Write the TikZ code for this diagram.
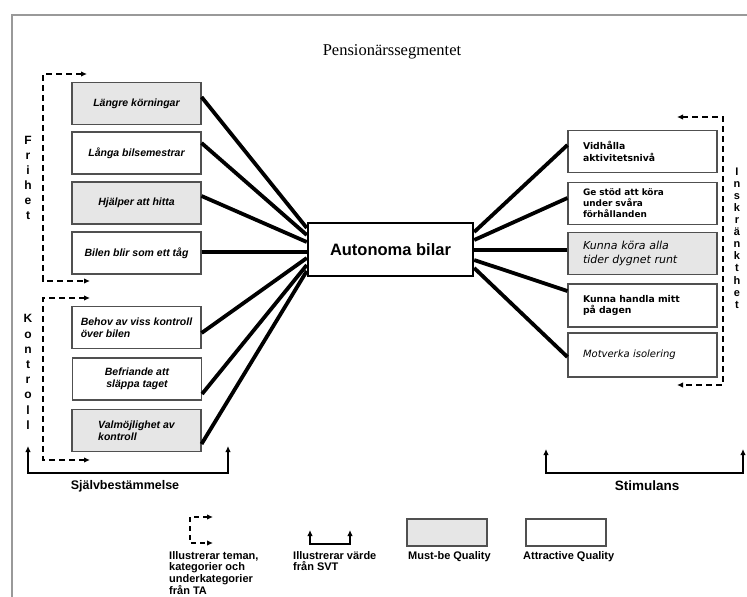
\documentclass[tikz,border=0pt]{standalone}
\usepackage{fontspec}
\setmainfont{Liberation Sans}
\newfontfamily\vfont{DejaVu Sans}
\newfontfamily\tfont{Liberation Serif}
\usetikzlibrary{arrows.meta}
\definecolor{mustgray}{HTML}{E6E6E6}
\definecolor{boxline}{HTML}{505050}
\definecolor{framegray}{HTML}{999999}
\begin{document}
\begin{tikzpicture}[x=1pt,y=-1pt,
 box/.style={draw=boxline, line width=1.1pt, minimum width=129pt, minimum height=42pt, inner sep=2pt, font=\fontsize{10.5}{12}\selectfont\bfseries\itshape},
 rbox/.style={draw=boxline, line width=1.1pt, text width=119pt, inner xsep=15pt, inner ysep=2pt, minimum height=42pt, align=left},
 rbold/.style={font=\vfont\bfseries\fontsize{9.3}{11.5}\selectfont},
 rital/.style={font=\vfont\itshape\fontsize{10.5}{14}\selectfont},
 must/.style={fill=mustgray},
 conn/.style={line width=3.8pt},
 dashbr/.style={line width=1.8pt, dash pattern=on 6pt off 4pt, {Latex[length=6pt,width=5.5pt]}-{Latex[length=6pt,width=5.5pt]}},
 solidbr/.style={line width=1.8pt, {Latex[length=6pt,width=5.5pt]}-{Latex[length=6pt,width=5.5pt]}},
 vlet/.style={font=\fontsize{12}{15}\selectfont\bfseries, align=center, inner sep=0pt},
 leg/.style={font=\bfseries\fontsize{11}{11.2}\selectfont, inner sep=0pt, anchor=north west, align=left},
 lbl/.style={font=\bfseries\fontsize{12.5}{14}\selectfont},
]
\useasboundingbox (0,0) rectangle (747,597);
% frame
\draw[framegray, line width=1.8pt] (12,597) -- (12,15) -- (747,15);
% title
\node[font=\tfont\fontsize{16.5}{18}\selectfont] (title) at (392,52) {Pensionärssegmentet};
% left boxes
\node[box,must] (l1) at (136.5,103.5) {Längre körningar};
\node[box] (l2) at (136.5,153) {Långa bilsemestrar};
\node[box,must] (l3) at (136.5,203) {Hjälper att hitta};
\node[box] (l4) at (136.5,253) {Bilen blir som ett tåg};
\node[box,align=left] (l5) at (136.5,327.5) {Behov av viss kontroll\\över bilen};
\node[box,align=center] (l6) at (137,379) {Befriande att\\släppa taget};
\node[box,must,align=left] (l7) at (136.5,430.5) {Valmöjlighet av\\kontroll};
% right boxes
\node[rbox,rbold] (r1) at (642.5,151.5) {Vidhålla\\aktivitetsnivå};
\node[rbox,rbold,font=\vfont\bfseries\fontsize{8.9}{11}\selectfont] (r2) at (642.5,203.5) {Ge stöd att köra\\under svåra\\förhållanden};
\node[rbox,rital,must,font=\vfont\itshape\fontsize{11}{14}\selectfont] (r3) at (642.5,253.5) {Kunna köra alla\\tider dygnet runt};
\node[rbox,rbold,minimum height=43pt,font=\vfont\bfseries\fontsize{9.3}{11}\selectfont] (r4) at (642.5,305.5) {Kunna handla mitt\\på dagen};
\node[rbox,rital,minimum height=44pt,font=\vfont\itshape\fontsize{10}{12}\selectfont] (r5) at (642.5,355) {Motverka isolering};
% center
\node[draw, line width=2.4pt, minimum width=165pt, minimum height=53pt, font=\bfseries\fontsize{16.5}{18}\selectfont] (c) at (390.5,249.5) {Autonoma bilar};
% connectors left
\draw[conn] ([yshift=6.5pt]l1.east) -- ([yshift=21.5pt]c.west);
\draw[conn] ([yshift=10pt]l2.east) -- ([yshift=14.5pt]c.west);
\draw[conn] ([yshift=7pt]l3.east) -- ([yshift=7.5pt]c.west);
\draw[conn] ([yshift=1pt]l4.east) -- ([yshift=-2.5pt]c.west);
\draw[conn] ([yshift=-5.5pt]l5.east) -- ([yshift=-8.5pt]c.west);
\draw[conn] ([yshift=-15pt]l6.east) -- ([yshift=-15.5pt]c.west);
\draw[conn] ([yshift=-13.5pt]l7.east) -- ([yshift=-21.5pt]c.west);
% connectors right
\draw[conn] ([yshift=6.5pt]r1.west) -- ([yshift=17.5pt]c.east);
\draw[conn] ([yshift=5.5pt]r2.west) -- ([yshift=9.5pt]c.east);
\draw[conn] ([yshift=3.5pt]r3.west) -- ([yshift=-0.5pt]c.east);
\draw[conn] ([yshift=14.5pt]r4.west) -- ([yshift=-10.5pt]c.east);
\draw[conn] ([yshift=-2pt]r5.west) -- ([yshift=-18.5pt]c.east);
% dashed brackets
\coordinate (fa) at (87,74); \coordinate (fb) at (90,281);
\draw[dashbr] (fa) -| (43,281) -- (fb);
\coordinate (ka) at (90,298); \coordinate (kb) at (90,460);
\draw[dashbr] (ka) -| (43,460) -- (kb);
\coordinate (ia) at (677,117); \coordinate (ib) at (677,385);
\draw[dashbr] (ia) -| (723,385) -- (ib);
% vertical labels
\node[vlet] (frihet) at (28,178) {F\\r\\i\\h\\e\\t};
\node[vlet, font=\fontsize{12}{15.2}\selectfont\bfseries] (kontroll) at (28,372) {K\\o\\n\\t\\r\\o\\l\\l};
\node[vlet, font=\fontsize{11}{12.1}\selectfont\bfseries] (inskr) at (737,238) {I\\n\\s\\k\\r\\ä\\n\\k\\t\\h\\e\\t};
% solid brackets
\coordinate (sa) at (28,446); \coordinate (sb) at (228,446);
\draw[solidbr] (sa) |- (228,473) -- (sb);
\coordinate (ta) at (546,449); \coordinate (tb) at (743,449);
\draw[solidbr] (ta) |- (743,473) -- (tb);
\node[lbl] (sjalv) at (125,486) {Självbestämmelse};
\node[lbl, font=\bfseries\fontsize{13.5}{15}\selectfont] (stim) at (647,486) {Stimulans};
% legend
\coordinate (la) at (213,517); \coordinate (lb) at (213,543);
\draw[dashbr, dash pattern=on 5pt off 4pt] (la) -| (190,543) -- (lb);
\coordinate (lsa) at (310,530); \coordinate (lsb) at (350,530);
\draw[solidbr] (lsa) |- (350,544) -- (lsb);
\node[draw=boxline, line width=1.1pt, fill=mustgray, minimum width=80pt, minimum height=27pt, inner sep=0pt] (lgm) at (447,532.5) {};
\node[draw=boxline, line width=1.1pt, fill=white, minimum width=80pt, minimum height=27pt, inner sep=0pt] (lga) at (566,532.5) {};
\node[leg] (lt1) at (169,551.5) {Illustrerar teman,\\kategorier och\\underkategorier\\från TA};
\node[leg] (lt2) at (293,551.5) {Illustrerar värde\\från SVT};
\node[leg] (lt3) at (408,551.5) {Must-be Quality};
\node[leg] (lt4) at (523,551.5) {Attractive Quality};
\end{tikzpicture}
\end{document}
